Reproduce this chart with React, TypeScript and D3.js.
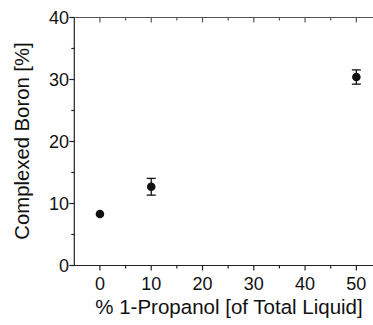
import {useEffect, useRef} from "react";
import * as d3 from "d3";

// data
const propanol = [0, 10, 50];
const boron = [8.3, 12.7, 30.4];
const boronErr = [0, 1.35, 1.15];

const xTicks = [0, 10, 20, 30, 40, 50];
const yTicks = [0, 10, 20, 30, 40];

function App() {

    const ref = useRef<SVGSVGElement>(null);

    useEffect(() => {

        const width = 373, height = 325;
        const font = "'Liberation Sans', Arial, sans-serif";

        const svg = d3.select(ref.current)
            .attr("width", width)
            .attr("height", height);
        svg.selectAll("*").remove();

        const x = d3.scaleLinear().domain([-5, 55]).range([74.3, 382]);
        const y = d3.scaleLinear().domain([0, 40]).range([265.5, 17.5]);

        const data = propanol.map((p, i) => ({x: p, y: boron[i], e: boronErr[i]}));

        const axisColor = "#222";

        // minor ticks every 5
        const xMinor = d3.range(-5, 56, 5).filter(v => !xTicks.includes(v) && v > -5);
        const yMinor = d3.range(5, 40, 10);

        // bottom axis
        const bottom = svg.append("g");
        bottom.append("line")
            .attr("x1", x(-5)).attr("x2", width)
            .attr("y1", y(0)).attr("y2", y(0))
            .attr("stroke", axisColor).attr("stroke-width", 1.2);
        bottom.selectAll(".maj").data(xTicks).enter().append("line")
            .attr("x1", d => x(d)).attr("x2", d => x(d))
            .attr("y1", y(0)).attr("y2", y(0) + 5)
            .attr("stroke", axisColor).attr("stroke-width", 1.2);
        bottom.selectAll(".min").data(xMinor).enter().append("line")
            .attr("x1", d => x(d)).attr("x2", d => x(d))
            .attr("y1", y(0)).attr("y2", y(0) + 3)
            .attr("stroke", axisColor).attr("stroke-width", 1.2);
        bottom.selectAll("text").data(xTicks).enter().append("text")
            .attr("x", d => x(d)).attr("y", 290)
            .attr("text-anchor", "middle")
            .style("font-family", font).style("font-size", "18px")
            .style("fill", "#111")
            .text(d => d);

        // top axis, ticks point inward
        const top = svg.append("g");
        top.append("line")
            .attr("x1", x(-5)).attr("x2", width)
            .attr("y1", y(40)).attr("y2", y(40))
            .attr("stroke", "#555").attr("stroke-width", 1.2);
        top.selectAll(".maj").data(xTicks).enter().append("line")
            .attr("x1", d => x(d)).attr("x2", d => x(d))
            .attr("y1", y(40)).attr("y2", y(40) + 5)
            .attr("stroke", "#555").attr("stroke-width", 1.2);
        top.selectAll(".min").data(xMinor).enter().append("line")
            .attr("x1", d => x(d)).attr("x2", d => x(d))
            .attr("y1", y(40)).attr("y2", y(40) + 3)
            .attr("stroke", "#555").attr("stroke-width", 1.2);

        // left axis
        const left = svg.append("g");
        left.append("line")
            .attr("x1", x(-5)).attr("x2", x(-5))
            .attr("y1", y(0)).attr("y2", y(40))
            .attr("stroke", axisColor).attr("stroke-width", 1.2);
        left.selectAll(".maj").data(yTicks).enter().append("line")
            .attr("x1", x(-5) - 5).attr("x2", x(-5))
            .attr("y1", d => y(d)).attr("y2", d => y(d))
            .attr("stroke", axisColor).attr("stroke-width", 1.2);
        left.selectAll(".min").data(yMinor).enter().append("line")
            .attr("x1", x(-5) - 3).attr("x2", x(-5))
            .attr("y1", d => y(d)).attr("y2", d => y(d))
            .attr("stroke", axisColor).attr("stroke-width", 1.2);
        left.selectAll("text").data(yTicks).enter().append("text")
            .attr("x", 69).attr("y", d => y(d) + 6.5)
            .attr("text-anchor", "end")
            .style("font-family", font).style("font-size", "18px")
            .style("fill", "#111")
            .text(d => d);

        // axis titles
        svg.append("text")
            .attr("x", 229).attr("y", 314)
            .attr("text-anchor", "middle")
            .style("font-family", font).style("font-size", "20.5px")
            .style("fill", "#111")
            .text("% 1-Propanol [of Total Liquid]");

        svg.append("text")
            .attr("transform", "translate(29,141) rotate(-90)")
            .attr("text-anchor", "middle")
            .style("font-family", font).style("font-size", "20.3px")
            .style("fill", "#111")
            .text("Complexed Boron [%]");

        // error bars
        const bars = svg.append("g").attr("stroke", "#111").attr("stroke-width", 1.3);
        const withErr = data.filter(d => d.e > 0);
        bars.selectAll(".v").data(withErr).enter().append("line")
            .attr("x1", d => x(d.x)).attr("x2", d => x(d.x))
            .attr("y1", d => y(d.y - d.e)).attr("y2", d => y(d.y + d.e));
        bars.selectAll(".capt").data(withErr).enter().append("line")
            .attr("x1", d => x(d.x) - 4.5).attr("x2", d => x(d.x) + 4.5)
            .attr("y1", d => y(d.y + d.e)).attr("y2", d => y(d.y + d.e));
        bars.selectAll(".capb").data(withErr).enter().append("line")
            .attr("x1", d => x(d.x) - 4.5).attr("x2", d => x(d.x) + 4.5)
            .attr("y1", d => y(d.y - d.e)).attr("y2", d => y(d.y - d.e));

        // points
        svg.selectAll(".pt").data(data).enter().append("circle")
            .attr("cx", d => x(d.x))
            .attr("cy", d => y(d.y))
            .attr("r", 4.3)
            .attr("fill", "#111");

    }, []);

    return <svg ref={ref} style={{position: "absolute", left: 0, top: 0, background: "#fff"}}></svg>
}

export default App;
